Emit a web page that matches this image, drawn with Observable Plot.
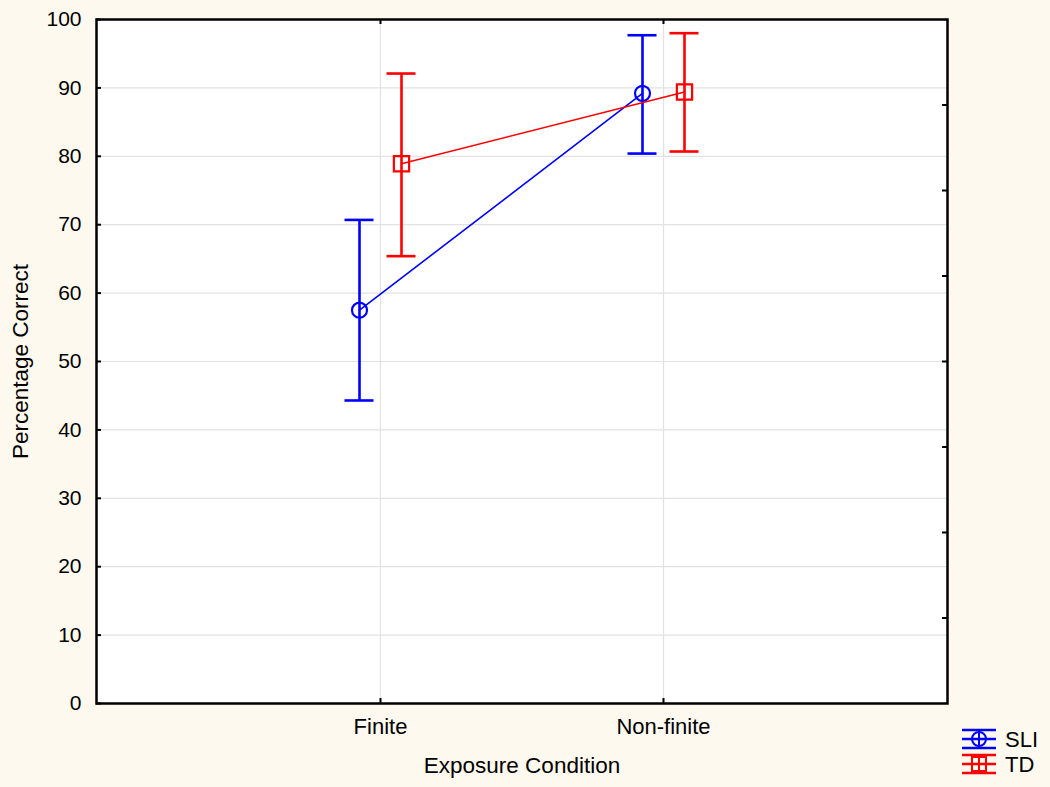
<!DOCTYPE html>
<html>
<head>
<meta charset="utf-8">
<script src="https://cdn.jsdelivr.net/npm/d3@7"></script>
<script src="https://cdn.jsdelivr.net/npm/@observablehq/plot@0.6"></script>
<style>
  html, body { margin: 0; padding: 0; background: #fef9ee; }
  #wrap { position: relative; width: 1050px; height: 787px; background: #fef9ee; font-family: "Liberation Sans", Arial, sans-serif; }
  #legend { position: absolute; left: 961px; top: 727px; font-size: 22px; color: #000; }
  #legend .row { display: flex; align-items: center; height: 25px; }
  #legend svg { margin-right: 6px; }
</style>
</head>
<body>
<div id="wrap"></div>
<script>
const conditions = ["Finite", "Non-finite"];
const seriesNames = ["SLI", "TD"];
const sliMean = [57.5, 89.2];
const sliLow  = [44.3, 80.4];
const sliHigh = [70.7, 97.7];
const tdMean  = [78.9, 89.4];
const tdLow   = [65.4, 80.7];
const tdHigh  = [92.1, 98.0];
const yTicks = [0, 10, 20, 30, 40, 50, 60, 70, 80, 90, 100];
const rightTicks = [12.5, 25, 37.5, 50, 62.5, 75, 87.5];

const sli = conditions.map((c, i) => ({cond: c, mean: sliMean[i], lo: sliLow[i], hi: sliHigh[i]}));
const td  = conditions.map((c, i) => ({cond: c, mean: tdMean[i], lo: tdLow[i], hi: tdHigh[i]}));

const styles = [
  {data: sli, color: "#0000ff", dx: -21, symbol: "circle", r: 7.5},
  {data: td,  color: "#ff0000", dx: 21,  symbol: "square", r: 8.6}
];

const W = 1050, H = 787, ML = 96, MR = 103, MT = 19, MB = 84;
const PW = W - ML - MR, PH = H - MT - MB;

const seriesMarks = styles.flatMap(s => [
  Plot.ruleX(s.data, {x: "cond", y1: "lo", y2: "hi", dx: s.dx, stroke: s.color, strokeWidth: 2.6}),
  Plot.ruleY(s.data, {x1: "cond", x2: "cond", y: "hi", dx: s.dx, insetLeft: -14.5, insetRight: -14.5, stroke: s.color, strokeWidth: 2.6}),
  Plot.ruleY(s.data, {x1: "cond", x2: "cond", y: "lo", dx: s.dx, insetLeft: -14.5, insetRight: -14.5, stroke: s.color, strokeWidth: 2.6}),
  Plot.line(s.data, {x: "cond", y: "mean", dx: s.dx, stroke: s.color, strokeWidth: 1.6}),
  Plot.dot(s.data, {x: "cond", y: "mean", dx: s.dx, symbol: s.symbol, r: s.r, stroke: s.color, strokeWidth: 2.2, fill: "none"})
]);

const chart = Plot.plot({
  width: W, height: H,
  marginLeft: ML, marginRight: MR, marginTop: MT, marginBottom: MB,
  style: {background: "transparent", fontFamily: "Liberation Sans, Arial, sans-serif", color: "#000"},
  x: {type: "point", domain: conditions, padding: 1, axis: null},
  y: {domain: [0, 100], axis: null},
  marks: [
    Plot.frame({fill: "white"}),
    Plot.gridY(yTicks, {stroke: "#e2e2e2", strokeOpacity: 1, strokeWidth: 1.2}),
    Plot.gridX(conditions, {stroke: "#e2e2e2", strokeOpacity: 1, strokeWidth: 1.2}),
    Plot.tickY(yTicks, {y: d => d, insetRight: PW - 5, stroke: "#000", strokeWidth: 2}),
    Plot.tickY(rightTicks, {y: d => d, insetLeft: PW - 5, stroke: "#000", strokeWidth: 2}),
    Plot.tickX(conditions, {x: d => d, insetTop: PH - 5, stroke: "#000", strokeWidth: 2}),
    Plot.tickX(conditions, {x: d => d, insetBottom: PH - 5, stroke: "#000", strokeWidth: 2}),
    Plot.axisY(yTicks, {tickSize: 0, tickPadding: 15, fontSize: 21, label: null}),
    Plot.axisX(conditions, {tickSize: 0, tickPadding: 15, fontSize: 22, label: null}),
    Plot.text(["Exposure Condition"], {frameAnchor: "bottom", dy: 62, fontSize: 22.5, textAnchor: "middle", lineAnchor: "middle"}),
    Plot.text(["Percentage Correct"], {frameAnchor: "left", dx: -76, rotate: -90, fontSize: 22.5, textAnchor: "middle", lineAnchor: "middle"}),
    ...seriesMarks,
    Plot.frame({stroke: "#000", strokeWidth: 2.5})
  ]
});

const wrap = document.getElementById("wrap");
wrap.appendChild(chart);

// Legend
const legend = document.createElement("div");
legend.id = "legend";
function icon(color, kind) {
  const inner = kind === "circle"
    ? `<circle cx="18" cy="11" r="7" fill="none" stroke="${color}" stroke-width="2"/><line x1="18" y1="2" x2="18" y2="20" stroke="${color}" stroke-width="2"/>`
    : `<rect x="11" y="4" width="14" height="14" fill="none" stroke="${color}" stroke-width="2"/><line x1="18" y1="2" x2="18" y2="20" stroke="${color}" stroke-width="2"/>`;
  return `<svg width="38" height="24" viewBox="0 0 38 24">
    <line x1="1" y1="2" x2="35" y2="2" stroke="${color}" stroke-width="2.5"/>
    <line x1="1" y1="11" x2="35" y2="11" stroke="${color}" stroke-width="2.5"/>
    <line x1="1" y1="20" x2="35" y2="20" stroke="${color}" stroke-width="2.5"/>
    ${inner}
  </svg>`;
}
legend.innerHTML = seriesNames.map((n, i) =>
  `<div class="row">${icon(styles[i].color, styles[i].symbol)}<span>${n}</span></div>`).join("");
wrap.appendChild(legend);
</script>
</body>
</html>
